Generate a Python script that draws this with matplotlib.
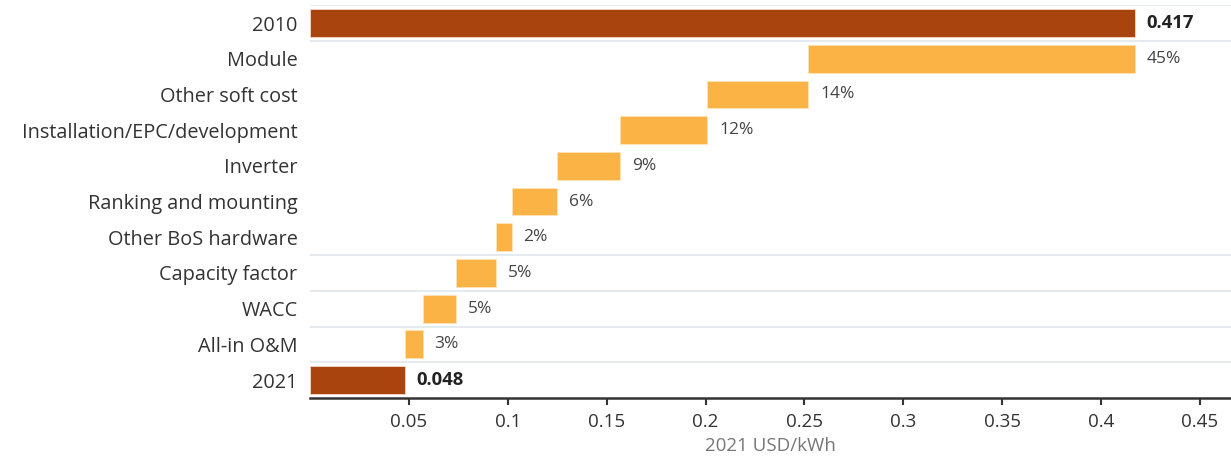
import numpy as np
import matplotlib.pyplot as plt

plt.rcParams['font.family'] = ['Open Sans', 'DejaVu Sans']

# LCOE waterfall, 2021 USD/kWh
categories = ['2010', 'Module', 'Other soft cost', 'Installation/EPC/development',
              'Inverter', 'Ranking and mounting', 'Other BoS hardware',
              'Capacity factor', 'WACC', 'All-in O&M', '2021']
start_value = 0.417
end_value = 0.048
reductions = [0.165, 0.051, 0.044, 0.032, 0.023, 0.008, 0.020, 0.017, 0.009]
shares = ['45%', '14%', '12%', '9%', '6%', '2%', '5%', '5%', '3%']

dark = '#A9440F'
light = '#FBB345'

fig = plt.figure(figsize=(12.31, 4.68), dpi=100)
ax = fig.add_axes([0.2518, 0.1496, 0.7482, 0.8394])

n = len(categories)
ypos = np.arange(n)
h = 0.78

# totals
ax.barh(ypos[0], start_value, height=h, color=dark, edgecolor='#F3D9C9', linewidth=0.6, zorder=3)
ax.barh(ypos[-1], end_value, height=h, color=dark, edgecolor='#F3D9C9', linewidth=0.6, zorder=3)
ax.text(start_value + 0.006, ypos[0], f'{start_value:.3f}', va='center', ha='left',
        fontsize=13.3, fontweight='bold', color='#222222')
ax.text(end_value + 0.006, ypos[-1], f'{end_value:.3f}', va='center', ha='left',
        fontsize=13.3, fontweight='bold', color='#222222')

# steps
level = start_value
for i, (r, s) in enumerate(zip(reductions, shares)):
    y = ypos[i + 1]
    ax.barh(y, r, left=level - r, height=h, color=light, edgecolor='#FDE3B8',
            linewidth=0.6, zorder=3)
    ax.text(level + 0.006, y, s, va='center', ha='left', fontsize=12.5,
            color='#444444')
    level -= r

ax.set_ylim(n - 0.5, -0.5)
ax.set_xlim(0, 0.4657)

# row separators
for b in [-0.5, 0.5, 6.5, 7.5, 8.5, 9.5]:
    ax.axhline(b, color='#E3E8EE', linewidth=1.3, zorder=1)

ax.set_yticks(ypos)
ax.set_yticklabels(categories, fontsize=14.3, color='#333333')
ax.tick_params(axis='y', length=0, pad=9)

ticks = [0.05, 0.1, 0.15, 0.2, 0.25, 0.3, 0.35, 0.4, 0.45]
ax.set_xticks(ticks)
ax.set_xticklabels(['0.05', '0.1', '0.15', '0.2', '0.25', '0.3', '0.35', '0.4', '0.45'],
                   fontsize=13.5, color='#333333')
ax.tick_params(axis='x', length=5, width=1.5, color='#333333', pad=6)
ax.set_xlabel('2021 USD/kWh', fontsize=13.5, color='#777777', labelpad=4)

for sp in ['top', 'right', 'left']:
    ax.spines[sp].set_visible(False)
ax.spines['bottom'].set_color('#333333')
ax.spines['bottom'].set_linewidth(1.8)

fig.savefig('out.png', dpi=100)
